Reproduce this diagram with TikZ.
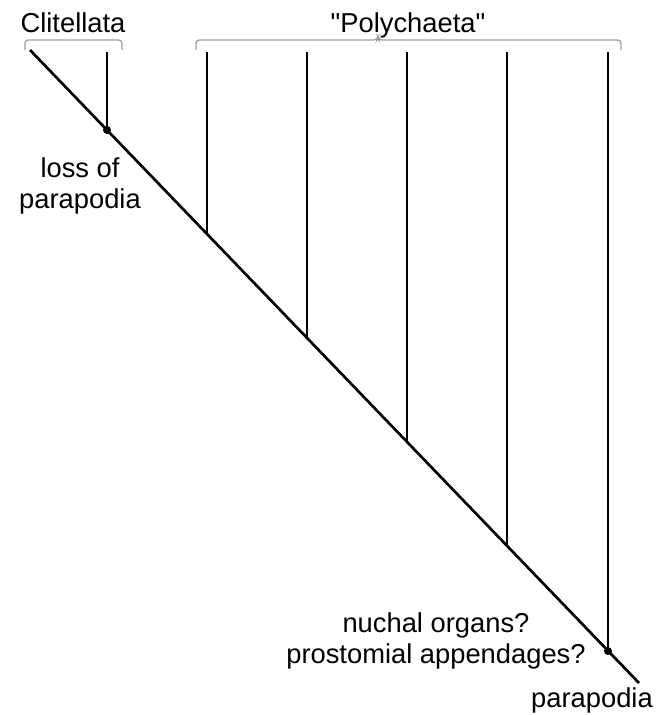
\documentclass[tikz,border=0pt]{standalone}
\usepackage{fontspec}
\setmainfont{Liberation Sans}[Ligatures=TeXOff]
\tikzset{
  branch/.style={line width=2pt, black},
  bracket/.style={line width=1pt, gray!75, rounded corners=2.5pt},
  label/.style={inner sep=0pt, font=\fontsize{20.5}{22.8}\selectfont},
  knot/.style={circle, fill=black, inner sep=0pt, minimum size=6pt}
}
\begin{document}
\begin{tikzpicture}[x=0.75pt,y=0.75pt,yscale=-1,xscale=1]
\useasboundingbox (0,0) rectangle (663,715);

%Coordinates on the main stem
\coordinate (top) at (30,50);
\coordinate (root) at (639,683);
\coordinate (b1) at (107,130);
\coordinate (b2) at (207,234);
\coordinate (b3) at (307,338);
\coordinate (b4) at (407,442);
\coordinate (b5) at (507,546);
\coordinate (b6) at (608,651);

%Tips
\coordinate (t1) at (107,52);
\coordinate (t2) at (207,52);
\coordinate (t3) at (307,52);
\coordinate (t4) at (407,52);
\coordinate (t5) at (507,52);
\coordinate (t6) at (608,52);

%Straight Lines
\draw[branch] (top) -- (root);
\foreach \i in {1,...,6}
  \draw[branch] (t\i) -- (b\i);

%Dots
\node[knot] (k1) at (b1) {};
\node[knot] (k6) at (b6) {};

%Brackets
\draw[bracket] (25,50) -- (25,40) -- (122,40) -- (122,50);
\draw[bracket] (196,50) -- (196,40) -- (377,40) -- (378,37) -- (379,40) -- (621,40) -- (621,50);

% Text Node
\draw (73,32) node (clit) [label, anchor=base] {Clitellata};
% Text Node
\draw (408,32) node (poly) [label, anchor=base] {"Polychaeta"};
% Text Node
\draw (80,208) node (loss) [label, anchor=base, align=center] {loss of\\parapodia};
% Text Node
\draw (436,663) node (nuch) [label, anchor=base, align=center] {nuchal organs?\\prostomial appendages?};
% Text Node
\draw (592,707) node (para) [label, anchor=base] {parapodia};

\end{tikzpicture}
\end{document}
